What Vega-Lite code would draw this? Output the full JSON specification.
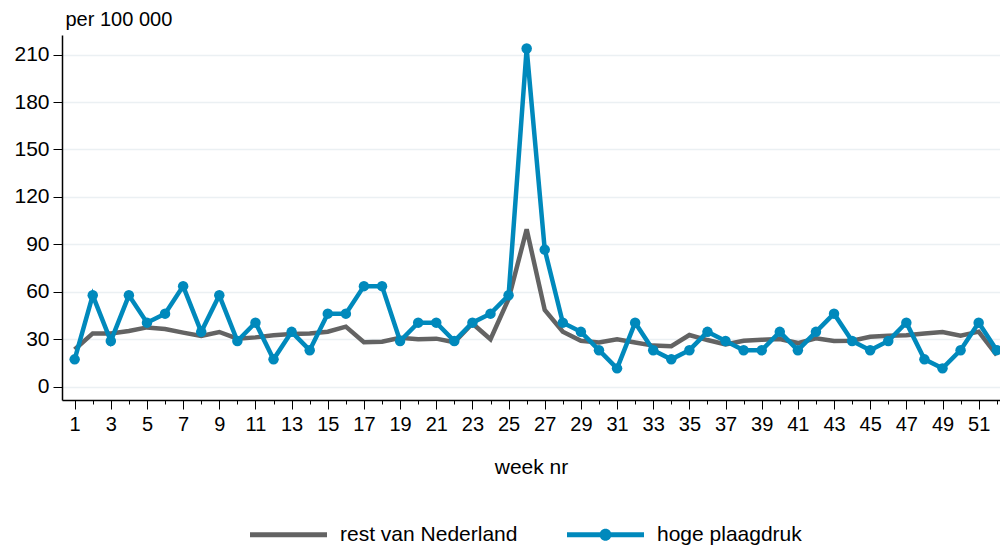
{
  "$schema": "https://vega.github.io/schema/vega-lite/v6.json",
  "width": 938,
  "height": 365,
  "autosize": {"type": "none"},
  "padding": {"left": 62, "top": 35, "right": 0, "bottom": 148},
  "background": "white",
  "config": {"view": {"stroke": null}, "font": "Liberation Sans"},
  "data": {
    "values": [
      {"week": 1, "serie": "rest van Nederland", "waarde": 23.5},
      {"week": 2, "serie": "rest van Nederland", "waarde": 33.7},
      {"week": 3, "serie": "rest van Nederland", "waarde": 33.7},
      {"week": 4, "serie": "rest van Nederland", "waarde": 35.2},
      {"week": 5, "serie": "rest van Nederland", "waarde": 37.5},
      {"week": 6, "serie": "rest van Nederland", "waarde": 36.5},
      {"week": 7, "serie": "rest van Nederland", "waarde": 34.2},
      {"week": 8, "serie": "rest van Nederland", "waarde": 32.1},
      {"week": 9, "serie": "rest van Nederland", "waarde": 34.6},
      {"week": 10, "serie": "rest van Nederland", "waarde": 30.4},
      {"week": 11, "serie": "rest van Nederland", "waarde": 31.2},
      {"week": 12, "serie": "rest van Nederland", "waarde": 32.6},
      {"week": 13, "serie": "rest van Nederland", "waarde": 33.3},
      {"week": 14, "serie": "rest van Nederland", "waarde": 33.7},
      {"week": 15, "serie": "rest van Nederland", "waarde": 34.8},
      {"week": 16, "serie": "rest van Nederland", "waarde": 38.0},
      {"week": 17, "serie": "rest van Nederland", "waarde": 28.1},
      {"week": 18, "serie": "rest van Nederland", "waarde": 28.4},
      {"week": 19, "serie": "rest van Nederland", "waarde": 30.9},
      {"week": 20, "serie": "rest van Nederland", "waarde": 30.0},
      {"week": 21, "serie": "rest van Nederland", "waarde": 30.4},
      {"week": 22, "serie": "rest van Nederland", "waarde": 28.1},
      {"week": 23, "serie": "rest van Nederland", "waarde": 40.0},
      {"week": 24, "serie": "rest van Nederland", "waarde": 30.0},
      {"week": 25, "serie": "rest van Nederland", "waarde": 55.5},
      {"week": 26, "serie": "rest van Nederland", "waarde": 99.5},
      {"week": 27, "serie": "rest van Nederland", "waarde": 48.5},
      {"week": 28, "serie": "rest van Nederland", "waarde": 34.8},
      {"week": 29, "serie": "rest van Nederland", "waarde": 29.1},
      {"week": 30, "serie": "rest van Nederland", "waarde": 28.0},
      {"week": 31, "serie": "rest van Nederland", "waarde": 30.0},
      {"week": 32, "serie": "rest van Nederland", "waarde": 28.0},
      {"week": 33, "serie": "rest van Nederland", "waarde": 26.0},
      {"week": 34, "serie": "rest van Nederland", "waarde": 25.6},
      {"week": 35, "serie": "rest van Nederland", "waarde": 32.7},
      {"week": 36, "serie": "rest van Nederland", "waarde": 29.5},
      {"week": 37, "serie": "rest van Nederland", "waarde": 26.8},
      {"week": 38, "serie": "rest van Nederland", "waarde": 29.1},
      {"week": 39, "serie": "rest van Nederland", "waarde": 29.7},
      {"week": 40, "serie": "rest van Nederland", "waarde": 30.2},
      {"week": 41, "serie": "rest van Nederland", "waarde": 27.6},
      {"week": 42, "serie": "rest van Nederland", "waarde": 30.6},
      {"week": 43, "serie": "rest van Nederland", "waarde": 28.9},
      {"week": 44, "serie": "rest van Nederland", "waarde": 29.1},
      {"week": 45, "serie": "rest van Nederland", "waarde": 31.6},
      {"week": 46, "serie": "rest van Nederland", "waarde": 32.2},
      {"week": 47, "serie": "rest van Nederland", "waarde": 32.6},
      {"week": 48, "serie": "rest van Nederland", "waarde": 33.7},
      {"week": 49, "serie": "rest van Nederland", "waarde": 34.6},
      {"week": 50, "serie": "rest van Nederland", "waarde": 32.2},
      {"week": 51, "serie": "rest van Nederland", "waarde": 34.8},
      {"week": 52, "serie": "rest van Nederland", "waarde": 20.0},
      {"week": 1, "serie": "hoge plaagdruk", "waarde": 17.3},
      {"week": 2, "serie": "hoge plaagdruk", "waarde": 57.8},
      {"week": 3, "serie": "hoge plaagdruk", "waarde": 28.9},
      {"week": 4, "serie": "hoge plaagdruk", "waarde": 57.8},
      {"week": 5, "serie": "hoge plaagdruk", "waarde": 40.5},
      {"week": 6, "serie": "hoge plaagdruk", "waarde": 46.2},
      {"week": 7, "serie": "hoge plaagdruk", "waarde": 63.6},
      {"week": 8, "serie": "hoge plaagdruk", "waarde": 34.7},
      {"week": 9, "serie": "hoge plaagdruk", "waarde": 57.8},
      {"week": 10, "serie": "hoge plaagdruk", "waarde": 28.9},
      {"week": 11, "serie": "hoge plaagdruk", "waarde": 40.5},
      {"week": 12, "serie": "hoge plaagdruk", "waarde": 17.3},
      {"week": 13, "serie": "hoge plaagdruk", "waarde": 34.7},
      {"week": 14, "serie": "hoge plaagdruk", "waarde": 23.1},
      {"week": 15, "serie": "hoge plaagdruk", "waarde": 46.2},
      {"week": 16, "serie": "hoge plaagdruk", "waarde": 46.2},
      {"week": 17, "serie": "hoge plaagdruk", "waarde": 63.6},
      {"week": 18, "serie": "hoge plaagdruk", "waarde": 63.6},
      {"week": 19, "serie": "hoge plaagdruk", "waarde": 28.9},
      {"week": 20, "serie": "hoge plaagdruk", "waarde": 40.5},
      {"week": 21, "serie": "hoge plaagdruk", "waarde": 40.5},
      {"week": 22, "serie": "hoge plaagdruk", "waarde": 28.9},
      {"week": 23, "serie": "hoge plaagdruk", "waarde": 40.5},
      {"week": 24, "serie": "hoge plaagdruk", "waarde": 46.2},
      {"week": 25, "serie": "hoge plaagdruk", "waarde": 57.8},
      {"week": 26, "serie": "hoge plaagdruk", "waarde": 213.9},
      {"week": 27, "serie": "hoge plaagdruk", "waarde": 86.7},
      {"week": 28, "serie": "hoge plaagdruk", "waarde": 40.5},
      {"week": 29, "serie": "hoge plaagdruk", "waarde": 34.7},
      {"week": 30, "serie": "hoge plaagdruk", "waarde": 23.1},
      {"week": 31, "serie": "hoge plaagdruk", "waarde": 11.6},
      {"week": 32, "serie": "hoge plaagdruk", "waarde": 40.5},
      {"week": 33, "serie": "hoge plaagdruk", "waarde": 23.1},
      {"week": 34, "serie": "hoge plaagdruk", "waarde": 17.3},
      {"week": 35, "serie": "hoge plaagdruk", "waarde": 23.1},
      {"week": 36, "serie": "hoge plaagdruk", "waarde": 34.7},
      {"week": 37, "serie": "hoge plaagdruk", "waarde": 28.9},
      {"week": 38, "serie": "hoge plaagdruk", "waarde": 23.1},
      {"week": 39, "serie": "hoge plaagdruk", "waarde": 23.1},
      {"week": 40, "serie": "hoge plaagdruk", "waarde": 34.7},
      {"week": 41, "serie": "hoge plaagdruk", "waarde": 23.1},
      {"week": 42, "serie": "hoge plaagdruk", "waarde": 34.7},
      {"week": 43, "serie": "hoge plaagdruk", "waarde": 46.2},
      {"week": 44, "serie": "hoge plaagdruk", "waarde": 28.9},
      {"week": 45, "serie": "hoge plaagdruk", "waarde": 23.1},
      {"week": 46, "serie": "hoge plaagdruk", "waarde": 28.9},
      {"week": 47, "serie": "hoge plaagdruk", "waarde": 40.5},
      {"week": 48, "serie": "hoge plaagdruk", "waarde": 17.3},
      {"week": 49, "serie": "hoge plaagdruk", "waarde": 11.6},
      {"week": 50, "serie": "hoge plaagdruk", "waarde": 23.1},
      {"week": 51, "serie": "hoge plaagdruk", "waarde": 40.5},
      {"week": 52, "serie": "hoge plaagdruk", "waarde": 23.1}
    ]
  },
  "resolve": {"axis": {"x": "independent"}},
  "layer": [
    {
      "transform": [{"filter": "datum.serie === 'rest van Nederland'"}],
      "mark": {"type": "line", "strokeWidth": 4.5, "clip": true},
      "encoding": {
        "x": {
          "field": "week", "type": "quantitative",
          "scale": {"domain": [0.3, 52.18], "nice": false, "zero": false},
          "axis": {
            "orient": "bottom",
            "values": [1, 3, 5, 7, 9, 11, 13, 15, 17, 19, 21, 23, 25, 27, 29, 31, 33, 35, 37, 39, 41, 43, 45, 47, 49, 51],
            "title": "week nr", "grid": false,
            "domainColor": "#000", "domainWidth": 1.5,
            "tickColor": "#000", "tickSize": 9, "tickWidth": 1,
            "labelFontSize": 20, "labelColor": "#000", "labelPadding": 5, "labelFlush": false,
            "titleFontSize": 21, "titleFontWeight": "normal", "titleColor": "#000", "titlePadding": 22
          }
        },
        "y": {
          "field": "waarde", "type": "quantitative",
          "scale": {"domain": [-8.4, 222.4], "nice": false, "zero": false},
          "axis": {
            "values": [0, 30, 60, 90, 120, 150, 180, 210],
            "grid": true, "gridColor": "#ebf0f3", "gridWidth": 1.5,
            "domainColor": "#000", "domainWidth": 1.5,
            "tickColor": "#000", "tickSize": 9, "tickWidth": 1,
            "labelFontSize": 21, "labelColor": "#000", "labelPadding": 4,
            "title": "per 100 000", "titleAngle": 0, "titleX": 3, "titleY": -10,
            "titleAlign": "left", "titleBaseline": "alphabetic",
            "titleFontSize": 20, "titleFontWeight": "normal", "titleColor": "#000"
          }
        },
        "color": {
          "field": "serie", "type": "nominal",
          "scale": {"domain": ["rest van Nederland", "hoge plaagdruk"], "range": ["#636363", "#0089bc"]},
          "legend": {
            "orient": "none", "legendX": 188, "legendY": 461,
            "direction": "horizontal", "title": null, "padding": 0,
            "symbolType": "M-1,-0.065H1V0.065H-1Z",
            "symbolSize": 5929, "symbolStrokeWidth": 0,
            "labelFontSize": 21, "labelColor": "#000", "labelOffset": 13, "labelLimit": 0,
            "columnPadding": 49,
            "encode": {
              "symbols": {
                "update": {
                  "shape": {"signal": "datum.value === 'hoge plaagdruk' ? 'M-1,-0.065H1V0.065H-1Z M0.156,0A0.156,0.156,0,1,1,-0.156,0A0.156,0.156,0,1,1,0.156,0Z' : 'M-1,-0.065H1V0.065H-1Z'"},
                  "fill": {"scale": "color", "field": "value"},
                  "stroke": {"value": "transparent"},
                  "opacity": {"value": 1}
                }
              }
            }
          }
        }
      }
    },
    {
      "transform": [{"filter": "datum.serie === 'hoge plaagdruk'"}],
      "mark": {"type": "line", "strokeWidth": 4.5, "clip": true},
      "encoding": {
        "x": {"field": "week", "type": "quantitative", "scale": {"domain": [0.3, 52.18], "nice": false, "zero": false}, "axis": null},
        "y": {"field": "waarde", "type": "quantitative", "scale": {"domain": [-8.4, 222.4], "nice": false, "zero": false}},
        "color": {"field": "serie", "type": "nominal", "scale": {"domain": ["rest van Nederland", "hoge plaagdruk"], "range": ["#636363", "#0089bc"]}}
      }
    },
    {
      "transform": [{"filter": "datum.serie === 'hoge plaagdruk'"}],
      "mark": {"type": "point", "filled": true, "opacity": 1, "size": 110, "clip": true},
      "encoding": {
        "x": {
          "field": "week", "type": "quantitative",
          "scale": {"domain": [0.3, 52.18], "nice": false, "zero": false},
          "axis": {
            "orient": "bottom",
            "values": [2, 4, 6, 8, 10, 12, 14, 16, 18, 20, 22, 24, 26, 28, 30, 32, 34, 36, 38, 40, 42, 44, 46, 48, 50, 52],
            "title": null, "labels": false, "domain": false, "grid": false,
            "tickColor": "#000", "tickSize": 4, "tickWidth": 1
          }
        },
        "y": {"field": "waarde", "type": "quantitative", "scale": {"domain": [-8.4, 222.4], "nice": false, "zero": false}},
        "color": {"field": "serie", "type": "nominal", "scale": {"domain": ["rest van Nederland", "hoge plaagdruk"], "range": ["#636363", "#0089bc"]}}
      }
    }
  ]
}
